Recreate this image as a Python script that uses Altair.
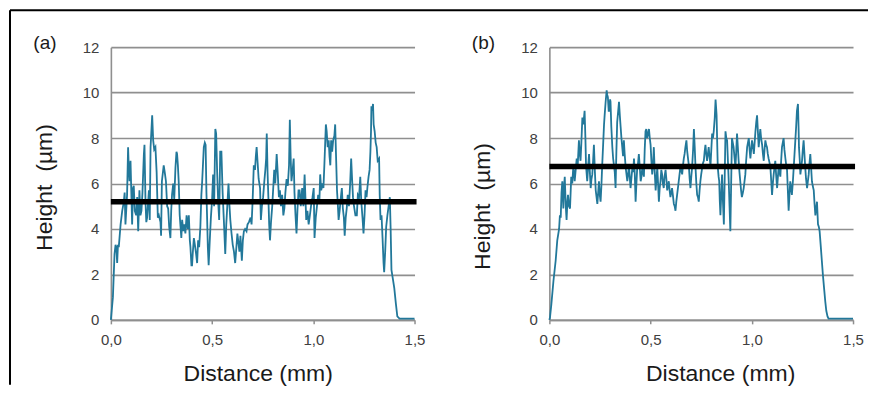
import altair as alt
import pandas as pd

# ---------------- data ----------------
x_a = [0.000,0.004,0.010,0.018,0.023,0.027,0.031,0.035,0.039,0.048,0.056,0.064,0.068,0.072,0.080,0.085,0.088,0.092,0.097,0.101,
       0.105,0.109,0.113,0.118,0.125,0.130,0.135,0.141,0.146,0.151,0.156,0.163,0.166,0.171,0.175,0.179,0.188,0.192,0.196,0.204,
       0.209,0.214,0.220,0.226,0.232,0.237,0.245,0.248,0.252,0.261,0.266,0.272,0.278,0.283,0.288,0.294,0.298,0.302,0.308,0.313,
       0.319,0.324,0.327,0.331,0.335,0.340,0.344,0.348,0.352,0.358,0.363,0.368,0.374,0.380,0.385,0.390,0.393,0.398,0.401,0.405,
       0.410,0.415,0.421,0.426,0.431,0.436,0.442,0.447,0.451,0.459,0.464,0.468,0.472,0.475,0.479,0.483,
       0.488,0.494,0.500,0.505,0.510,0.516,0.520,0.525,0.530,0.535,0.540,0.546,0.552,0.558,0.565,0.570,0.575,0.581,0.586,0.590,
       0.596,0.602,0.608,0.614,0.620,0.625,0.630,0.635,0.640,0.647,0.652,0.657,0.663,0.670,0.675,0.682,0.690,0.695,0.700,0.706,
       0.712,0.716,0.720,0.725,0.730,0.737,0.741,0.746,0.752,0.758,0.763,0.767,0.770,0.774,0.778,0.782,0.786,0.791,0.797,0.802,
       0.807,0.812,0.819,0.824,0.830,0.835,0.840,0.846,0.852,0.857,0.862,0.868,0.874,0.880,0.884,0.888,0.892,0.898,0.903,0.907,
       0.912,0.917,0.922,0.927,0.932,0.938,0.945,0.951,0.957,0.961,0.965,0.971,
       0.977,0.983,0.990,0.996,1.002,1.006,1.012,1.018,1.024,1.030,1.034,1.039,1.045,1.050,1.055,1.062,1.066,1.071,1.076,1.080,
       1.084,1.088,1.093,1.098,1.104,1.108,1.113,1.117,1.121,1.125,1.130,1.135,1.141,1.146,1.151,1.155,1.160,1.165,1.170,1.176,
       1.182,1.187,1.191,1.196,1.201,1.208,1.215,1.220,1.226,1.232,1.237,1.243,1.248,1.253,1.258,1.263,1.268,1.273,1.278,1.282,
       1.285,1.287,1.292,1.295,1.298,1.303,1.308,1.313,1.318,1.325,1.328,1.332,1.337,1.342,1.347,1.350,1.355,1.360,1.366,1.372,
       1.378,1.382,1.386,1.393,1.400,1.408,1.415,1.426,1.460,1.500]
y_a = [0.0,0.4,1.0,2.9,3.3,3.2,2.5,3.3,3.2,4.2,4.8,5.2,5.6,4.2,5.5,7.6,6.8,6.1,7.0,5.6,
       4.2,5.8,5.9,4.8,4.6,5.4,3.9,5.7,4.6,4.8,5.6,7.3,7.7,5.2,4.3,4.5,5.7,4.4,7.6,9.0,
       7.9,7.5,7.6,6.5,4.5,4.6,4.3,3.7,6.1,6.8,6.5,6.1,5.0,4.9,4.1,3.6,4.8,5.5,6.0,5.3,
       6.7,7.4,7.3,6.8,6.1,4.6,4.1,3.6,4.4,3.9,4.2,3.8,4.6,4.0,4.6,3.5,3.2,2.4,2.4,3.0,
       3.6,3.3,2.9,2.5,3.5,3.2,4.1,5.5,6.1,7.6,7.8,7.7,5.6,4.6,3.2,2.4,
       3.4,4.5,5.3,6.4,5.0,8.4,8.2,6.5,5.2,4.4,7.4,7.4,5.6,4.4,2.9,4.2,5.0,6.0,5.0,4.4,
       3.8,3.3,3.0,2.5,3.2,3.8,3.4,3.0,3.7,2.6,3.5,3.9,4.0,3.9,4.2,4.3,4.5,4.2,5.2,6.8,
       6.6,7.2,7.6,6.9,6.2,5.8,4.4,5.0,5.4,6.1,6.6,7.1,8.2,6.5,5.4,4.2,3.5,4.3,5.0,5.8,
       6.6,6.0,7.3,6.5,5.4,5.7,5.0,5.5,4.6,4.9,5.6,6.2,5.9,6.8,8.8,7.2,6.1,6.6,7.1,5.6,
       4.6,3.8,4.9,5.7,5.7,5.0,5.8,5.0,6.4,5.4,4.4,4.8,
       4.2,4.6,5.1,5.4,5.8,3.6,4.5,5.0,5.5,5.2,6.4,5.7,6.0,5.8,6.9,8.6,8.3,7.6,7.9,7.2,
       6.8,7.9,7.4,7.9,8.1,8.6,7.0,5.7,5.1,4.4,4.8,5.3,5.8,4.9,4.5,3.7,4.5,4.9,5.5,5.0,
       6.0,7.1,6.3,5.4,5.0,4.6,4.6,5.5,5.4,6.3,5.2,4.5,3.8,4.6,5.7,5.4,5.9,6.3,6.6,7.4,
       8.3,9.4,9.3,9.5,8.6,8.3,7.8,7.6,7.0,7.1,5.5,4.4,4.6,3.6,2.5,2.1,3.0,4.1,4.6,5.0,
       5.4,4.0,2.2,1.8,1.4,0.7,0.15,0.05,0.05,0.05]

x_b = [0.000,0.003,0.010,0.020,0.031,0.039,0.048,0.052,0.056,0.060,0.064,0.069,0.072,0.076,0.081,0.085,0.089,0.092,0.097,0.102,
       0.108,0.113,0.118,0.122,0.125,0.130,0.135,0.140,0.146,0.150,0.154,0.158,0.163,0.168,0.174,0.178,0.181,0.187,0.192,0.196,
       0.200,0.204,0.208,0.212,0.216,0.220,0.225,0.229,0.233,0.237,0.241,0.245,0.249,0.253,0.257,0.261,0.266,0.270,0.273,0.278,
       0.283,0.286,0.289,0.293,0.296,0.300,0.302,0.306,0.311,0.315,0.319,0.323,0.327,0.331,0.335,0.340,0.344,0.348,0.352,0.356,
       0.360,0.364,0.368,0.372,0.377,0.381,0.385,0.389,0.393,0.397,0.401,0.405,0.410,0.414,0.418,0.422,0.426,0.430,0.434,0.438,
       0.442,0.446,0.451,0.455,0.459,0.463,0.467,0.471,0.475,0.479,0.483,0.488,0.492,0.496,0.500,0.504,0.508,0.512,0.516,0.520,
       0.525,0.529,0.533,0.537,0.541,0.545,0.549,0.553,0.557,0.561,0.565,0.569,0.574,0.578,0.582,0.586,0.590,0.594,0.598,0.602,
       0.606,0.610,0.615,0.619,0.623,0.627,0.631,0.635,0.639,0.643,0.647,0.651,0.656,0.660,0.664,0.668,0.672,0.677,0.681,0.685,
       0.689,0.693,0.697,0.701,0.705,0.710,0.714,0.718,0.722,0.726,0.730,0.734,0.738,0.742,0.746,0.750,0.755,0.759,0.763,0.767,
       0.771,0.775,0.779,0.783,0.787,0.791,0.796,0.800,0.804,0.808,0.812,0.817,0.821,0.824,0.826,0.829,0.832,0.836,0.839,0.842,
       0.845,0.849,0.853,0.857,0.862,0.866,0.870,0.874,0.878,0.882,0.886,0.890,0.894,0.898,0.902,0.906,0.910,0.915,0.919,0.923,
       0.927,0.931,0.935,0.939,0.943,0.947,0.951,0.956,0.960,0.964,0.968,0.972,0.977,0.981,0.985,0.989,0.993,0.997,1.001,1.006,
       1.010,1.014,1.018,1.022,1.026,1.030,1.034,1.038,1.042,1.046,1.051,1.055,1.059,1.063,1.067,1.071,1.075,1.079,1.083,1.088,
       1.092,1.096,1.100,1.104,1.108,1.112,1.116,1.120,1.125,1.129,1.133,1.137,1.141,1.145,1.149,1.153,1.157,1.161,1.166,1.170,
       1.174,1.178,1.182,1.186,1.190,1.194,1.198,1.203,1.207,1.211,1.215,1.219,1.223,1.228,1.231,1.233,1.237,1.240,1.244,1.248,
       1.252,1.256,1.260,1.264,1.268,1.273,1.277,1.281,1.285,1.289,1.293,1.297,1.301,1.306,1.310,1.314,1.318,1.322,1.327,1.331,
       1.335,1.341,1.346,1.351,1.358,1.363,1.368,1.374,1.379,1.440,1.500]
y_b = [0.0,0.1,0.7,1.7,2.6,3.5,4.0,4.6,4.5,5.6,6.1,4.9,5.8,6.3,5.0,4.4,5.2,5.5,5.0,4.9,
       6.3,6.0,6.7,6.5,6.1,6.6,7.1,6.8,7.9,7.3,7.0,7.8,8.9,8.6,9.2,8.0,6.8,6.1,6.8,7.3,
       6.5,5.8,6.2,6.4,7.0,7.7,6.5,5.7,5.4,5.1,5.6,6.1,5.5,5.2,5.9,6.8,7.8,8.6,9.0,9.6,
       10.1,9.9,9.8,9.2,9.2,9.7,9.6,8.5,7.6,7.1,6.8,6.5,5.8,7.4,8.7,9.2,9.6,9.0,8.5,8.0,
       7.6,7.2,7.9,7.3,6.7,6.4,6.1,6.4,6.8,6.3,5.8,6.2,6.7,6.5,7.1,6.4,5.2,6.0,6.7,6.9,
       7.3,6.8,6.1,6.3,6.7,6.5,6.3,7.5,8.3,8.4,8.0,8.2,8.4,8.0,7.7,7.0,6.4,6.8,7.6,6.6,
       5.7,6.2,6.7,6.0,5.2,5.8,6.1,6.6,6.4,6.0,5.8,6.3,6.6,6.2,5.7,5.9,6.1,5.7,5.4,5.6,
       5.8,5.5,5.1,5.0,4.8,5.2,5.5,5.8,6.1,6.4,6.7,6.6,6.4,6.8,7.1,7.3,7.6,7.9,7.4,7.1,
       6.8,6.2,5.8,6.3,6.7,7.5,8.4,7.6,6.7,6.0,5.5,5.4,5.2,5.7,6.1,6.4,6.7,6.9,7.0,7.4,
       7.7,7.3,7.0,7.3,7.6,7.2,6.8,7.5,8.2,8.0,8.3,8.9,9.7,9.3,9.0,7.8,6.7,6.3,6.1,5.2,
       4.6,5.5,6.4,5.3,4.2,6.2,8.3,8.0,7.9,7.0,6.1,5.0,3.9,6.0,8.0,7.8,7.6,7.1,6.7,7.4,
       8.2,7.6,7.0,6.5,6.1,5.7,5.4,5.6,5.8,6.1,6.4,7.0,7.6,7.8,8.0,7.5,7.1,7.5,7.9,7.6,
       7.3,7.8,8.3,8.7,9.0,8.3,7.6,8.0,8.4,8.0,7.7,7.3,7.0,7.5,7.9,7.7,7.6,7.3,7.1,6.9,
       6.7,6.1,5.5,6.0,6.4,6.7,7.0,6.4,5.8,6.3,6.8,6.5,6.3,7.0,7.6,7.8,8.0,7.5,7.1,6.8,
       6.6,5.7,4.8,5.5,6.1,5.8,5.5,6.1,6.7,7.3,7.9,8.5,9.2,9.5,8.5,7.6,7.0,6.4,6.7,7.0,
       7.5,7.9,7.3,6.7,6.2,5.8,6.1,6.4,6.9,7.3,6.7,6.1,5.9,5.7,5.1,4.6,4.9,5.2,4.2,4.1,
       3.9,3.2,2.6,2.0,1.3,0.8,0.4,0.15,0.05,0.05,0.05]

mean_a = 5.2
mean_b = 6.75
mean_x_extent = [0.0, 1.51]
panel_labels = ["(a)", "(b)"]
x_ticks = [0.0, 0.5, 1.0, 1.5]
y_ticks = [0, 2, 4, 6, 8, 10, 12]
x_title = "Distance (mm)"
y_title = "Height\u00a0 (\u00b5m)"

TEAL = "#22789a"
GRID = "#8f8f8f"
FONT = "Liberation Sans"
W, H = 304, 273


def panel(xs, ys, mean, label, ytitle_y, xtitle_x, ytitle_x, frame=False):
    df = pd.DataFrame({"x": xs, "y": ys, "i": list(range(len(xs)))})
    xenc = alt.X("x:Q", scale=alt.Scale(domain=[0, 1.5], nice=False, zero=False),
                 axis=alt.Axis(values=x_ticks, labelExpr="replace(format(datum.value, '.1f'), '.', ',')",
                               title=x_title, grid=False, ticks=True, tickSize=4, labelPadding=9,
                               titleX=xtitle_x, titleY=61, titleAlign="center", titleBaseline="alphabetic",
                               labelFlush=False))
    yenc = alt.Y("y:Q", scale=alt.Scale(domain=[0, 12], nice=False),
                 axis=alt.Axis(values=y_ticks, title=y_title, grid=True, ticks=False, labelPadding=12,
                               titleAngle=270, titleX=ytitle_x, titleY=ytitle_y, titleAlign="center",
                               titleBaseline="alphabetic"))
    line = alt.Chart(df).mark_line(color=TEAL, strokeWidth=1.8).encode(x=xenc, y=yenc, order="i:Q")
    mdf = pd.DataFrame({"x": [mean_x_extent[0]], "x2": [mean_x_extent[1]], "y": [mean]})
    mean_rule = alt.Chart(mdf).mark_rule(color="black", strokeWidth=5.5).encode(x=xenc, x2="x2:Q", y=yenc)
    tdf = pd.DataFrame({"t": [label]})
    text = alt.Chart(tdf).mark_text(fontSize=19, font=FONT, color="#1a1a1a", align="center",
                                    baseline="middle").encode(text="t:N", x=alt.value(-66), y=alt.value(-4))
    layers = [line, mean_rule, text]
    if frame:
        one = pd.DataFrame({"k": [0]})
        top = alt.Chart(one).mark_rule(color="black", strokeWidth=2).encode(
            x=alt.value(-101), x2=alt.value(758), y=alt.value(-37))
        left = alt.Chart(one).mark_rule(color="black", strokeWidth=2).encode(
            x=alt.value(-101), y=alt.value(-37), y2=alt.value(338))
        layers += [top, left]
    return alt.layer(*layers).properties(width=W, height=H)


pa = panel(x_a, y_a, mean_a, panel_labels[0], 140, 147, -59, frame=True)
pb = panel(x_b, y_b, mean_b, panel_labels[1], 159, 171, -60)

chart = alt.hconcat(pa, pb, spacing=135, bounds="flush").properties(
    padding=0, background="white"
).configure_view(
    stroke="transparent"
).configure_axis(
    gridColor=GRID, gridWidth=1.6, domainColor=GRID, domainWidth=1.6, tickColor=GRID, tickWidth=1.5,
    labelFont=FONT, labelFontSize=15, labelColor="#404040",
    titleFont=FONT, titleFontSize=23, titleFontWeight="normal", titleColor="#1a1a1a"
)

chart.save("out.html", embed_options={"renderer": "svg", "actions": False})
